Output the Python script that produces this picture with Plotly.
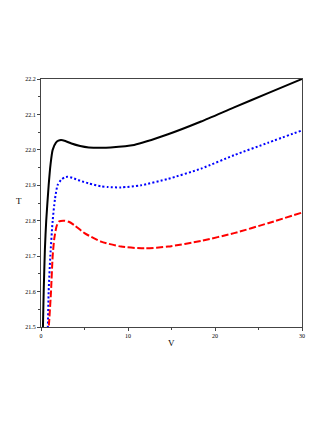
import plotly.graph_objects as go

# black solid curve
v_black = [0.18, 0.25, 0.31, 0.45, 0.6, 0.88, 1.1, 1.34, 1.7, 2.0, 2.3, 2.8, 3.5, 4.5, 5.5,
           6.9, 8.0, 10.7, 14.6, 18.4, 22.2, 26.1, 30]
t_black = [21.45, 21.53, 21.6, 21.72, 21.8, 21.9, 21.96, 22.0, 22.02, 22.026, 22.028, 22.025,
           22.018, 22.011, 22.007, 22.006, 22.007, 22.014, 22.044, 22.08, 22.12, 22.16, 22.2]

# blue dotted curve
v_blue = [0.75, 0.88, 1.07, 1.34, 1.6, 1.9, 2.3, 2.7, 3.07, 3.6, 4.5, 5.5, 6.9, 7.7, 9.2,
          11.5, 14.6, 18.4, 22.2, 26.1, 30]
t_blue = [21.45, 21.6, 21.7, 21.8, 21.86, 21.9, 21.915, 21.922, 21.924, 21.921, 21.913, 21.905,
          21.897, 21.895, 21.894, 21.9, 21.918, 21.947, 21.985, 22.02, 22.055]

# red dashed curve
v_red = [0.75, 0.95, 1.15, 1.34, 1.53, 1.8, 2.1, 2.7, 3.2, 3.8, 5.0, 6.9, 9.2, 11.9, 14.6,
         18.4, 22.2, 26.1, 30]
t_red = [21.45, 21.52, 21.6, 21.7, 21.75, 21.785, 21.798, 21.80, 21.797, 21.788, 21.765, 21.741,
         21.727, 21.722, 21.727, 21.743, 21.765, 21.793, 21.823]

x_ticks = [0, 10, 20, 30]
y_ticks = [21.5, 21.6, 21.7, 21.8, 21.9, 22.0, 22.1, 22.2]

fig = go.Figure()
fig.add_trace(go.Scatter(x=v_black, y=t_black, mode='lines',
                         line=dict(color='black', width=2, shape='spline', smoothing=0.6)))
fig.add_trace(go.Scatter(x=v_blue, y=t_blue, mode='lines',
                         line=dict(color='blue', width=2, dash='2px,2.2px', shape='spline', smoothing=0.6)))
fig.add_trace(go.Scatter(x=v_red, y=t_red, mode='lines',
                         line=dict(color='red', width=2, dash='7px,2.5px', shape='spline', smoothing=0.6)))

axis_style = dict(showline=True, linecolor='#444', linewidth=1, mirror=True, automargin=False,
                  ticks='outside', ticklen=3, tickcolor='#444', showgrid=False, zeroline=False,
                  tickfont=dict(family='Liberation Serif', size=6, color='black'))

fig.update_layout(
    width=327, height=423,
    margin=dict(l=33, r=33, t=71, b=104),
    paper_bgcolor='white', plot_bgcolor='white',
    showlegend=False,
    font=dict(family='Liberation Serif'),
    xaxis=dict(range=[0, 30], tickvals=x_ticks,
               minor=dict(tickvals=[5, 15, 25], ticks='outside', ticklen=2, tickcolor='#444'),
               **axis_style),
    yaxis=dict(range=[21.5, 22.2], tickvals=y_ticks, tickformat='.1f',
               minor=dict(dtick=0.05, ticks='outside', ticklen=2, tickcolor='#444'),
               **axis_style),
)
# upright axis labels
fig.add_annotation(text='V', x=0.5, y=-0.065, xref='paper', yref='paper', showarrow=False,
                   font=dict(size=9, color='black'), xanchor='center', yanchor='middle')
fig.add_annotation(text='T', x=-0.085, y=0.51, xref='paper', yref='paper', showarrow=False,
                   font=dict(size=9, color='black'), xanchor='center', yanchor='middle')
fig.write_html("out.html")
